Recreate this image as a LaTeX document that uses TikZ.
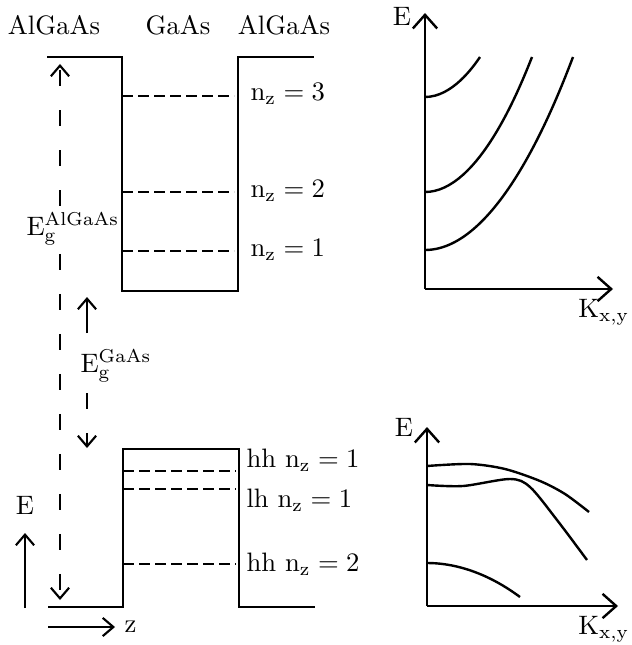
\documentclass[tikz,border=0pt]{standalone}
\usepackage{tikz}
\usetikzlibrary{arrows.meta}

\begin{document}
\begin{tikzpicture}[
    x=0.375pt, y=-0.375pt,
    band/.style={line width=1pt},
    level/.style={line width=0.9pt, dash pattern=on 4pt off 2pt},
    gapline/.style={line width=0.8pt, dash pattern=on 6pt off 9pt},
    small arrow/.style={-{Straight Barb[length=1.4mm, width=2.4mm]}, line width=0.8pt},
    axis/.style={-{Straight Barb[length=1.8mm, width=3.2mm]}, line width=0.9pt},
    curve/.style={line width=0.9pt},
    lbl/.style={inner sep=0pt, font=\normalsize}
]
\useasboundingbox (0,0) rectangle (631,645);

% layer names
\node[lbl, anchor=base] (left)  at (54,35)  {AlGaAs};
\node[lbl, anchor=base] (well)  at (178,35) {GaAs};
\node[lbl, anchor=base] (right) at (284,35) {AlGaAs};

% conduction band
\draw[band] (47,57) -- (122,57) -- (122,291) -- (238,291) -- (238,57) -- (314,57);
\foreach \y/\n in {96/3, 192/2, 251/1} {
    \draw[level] (122,\y) -- (234,\y);
    \node[lbl, anchor=base west] (nc\n) at (250,\y+5) {$\mathrm{n_z}=\n$};
}

% valence band
\draw[band] (48,607) -- (123,607) -- (123,449) -- (239,449) -- (239,607) -- (315,607);
\draw[level] (123,471) -- (236,471);
\draw[level] (123,489) -- (236,489);
\draw[level] (123,564) -- (236,564);
\node[lbl, anchor=base west] (hh1) at (246,467) {hh $\mathrm{n_z}=1$};
\node[lbl, anchor=base west] (lh1) at (246,507) {lh $\mathrm{n_z}=1$};
\node[lbl, anchor=base west] (hh2) at (246,571) {hh $\mathrm{n_z}=2$};

% band gaps
\coordinate (gAtop) at (60,64);
\coordinate (gAbot) at (60,600);
\node[lbl, anchor=base west] (EgA) at (26,235) {$\mathrm{E_g^{AlGaAs}}$};
\draw[gapline, small arrow] (EgA.north -| gAtop) ++(0,-6) -- (gAtop);
\draw[gapline, small arrow] (EgA.south -| gAbot) ++(0,8) -- (gAbot);

\coordinate (gGtop) at (87,297);
\coordinate (gGbot) at (87,448);
\node[lbl, anchor=base west] (EgG) at (80,372) {$\mathrm{E_g^{GaAs}}$};
\draw[small arrow] (87,333) -- (gGtop);
\draw[gapline, small arrow] (87,393) -- (gGbot);

% E and z directions
\node[lbl] (Eleft) at (25,505) {E};
\draw[small arrow] (25,608) -- (25,533);
\coordinate (zstart) at (48,627);
\coordinate (zend) at (115,627);
\node[lbl, anchor=west] (zdir) at (124,627) {z};
\draw[small arrow] (zstart) -- (zend);

% conduction subbands
\coordinate (oc) at (425,289);
\draw[axis] (oc) -- (425,13);
\draw[axis] (oc) -- (613,289);
\node[lbl] (Ec) at (402,16) {E};
\node[lbl, anchor=east] (Kc) at (630,312) {$\mathrm{K_{x,y}}$};
\foreach \y/\x in {97/480, 192/532, 250/573}
    \draw[curve] (425,\y) parabola (\x,57);

% valence subbands
\coordinate (ov) at (427,606);
\draw[axis] (ov) -- (427,427);
\draw[axis] (ov) -- (618,606);
\node[lbl] (Ev) at (404,427) {E};
\node[lbl, anchor=east] (Kv) at (630,629) {$\mathrm{K_{x,y}}$};
\draw[curve] plot[smooth] coordinates {(427,466) (470,464) (505,469) (540,481) (565,494) (589,512)};
\draw[curve] plot[smooth] coordinates {(427,485) (463,486) (510,479) (530,487) (557,520) (587,560)};
\draw[curve] (427,563) parabola (520,597);
\end{tikzpicture}
\end{document}
